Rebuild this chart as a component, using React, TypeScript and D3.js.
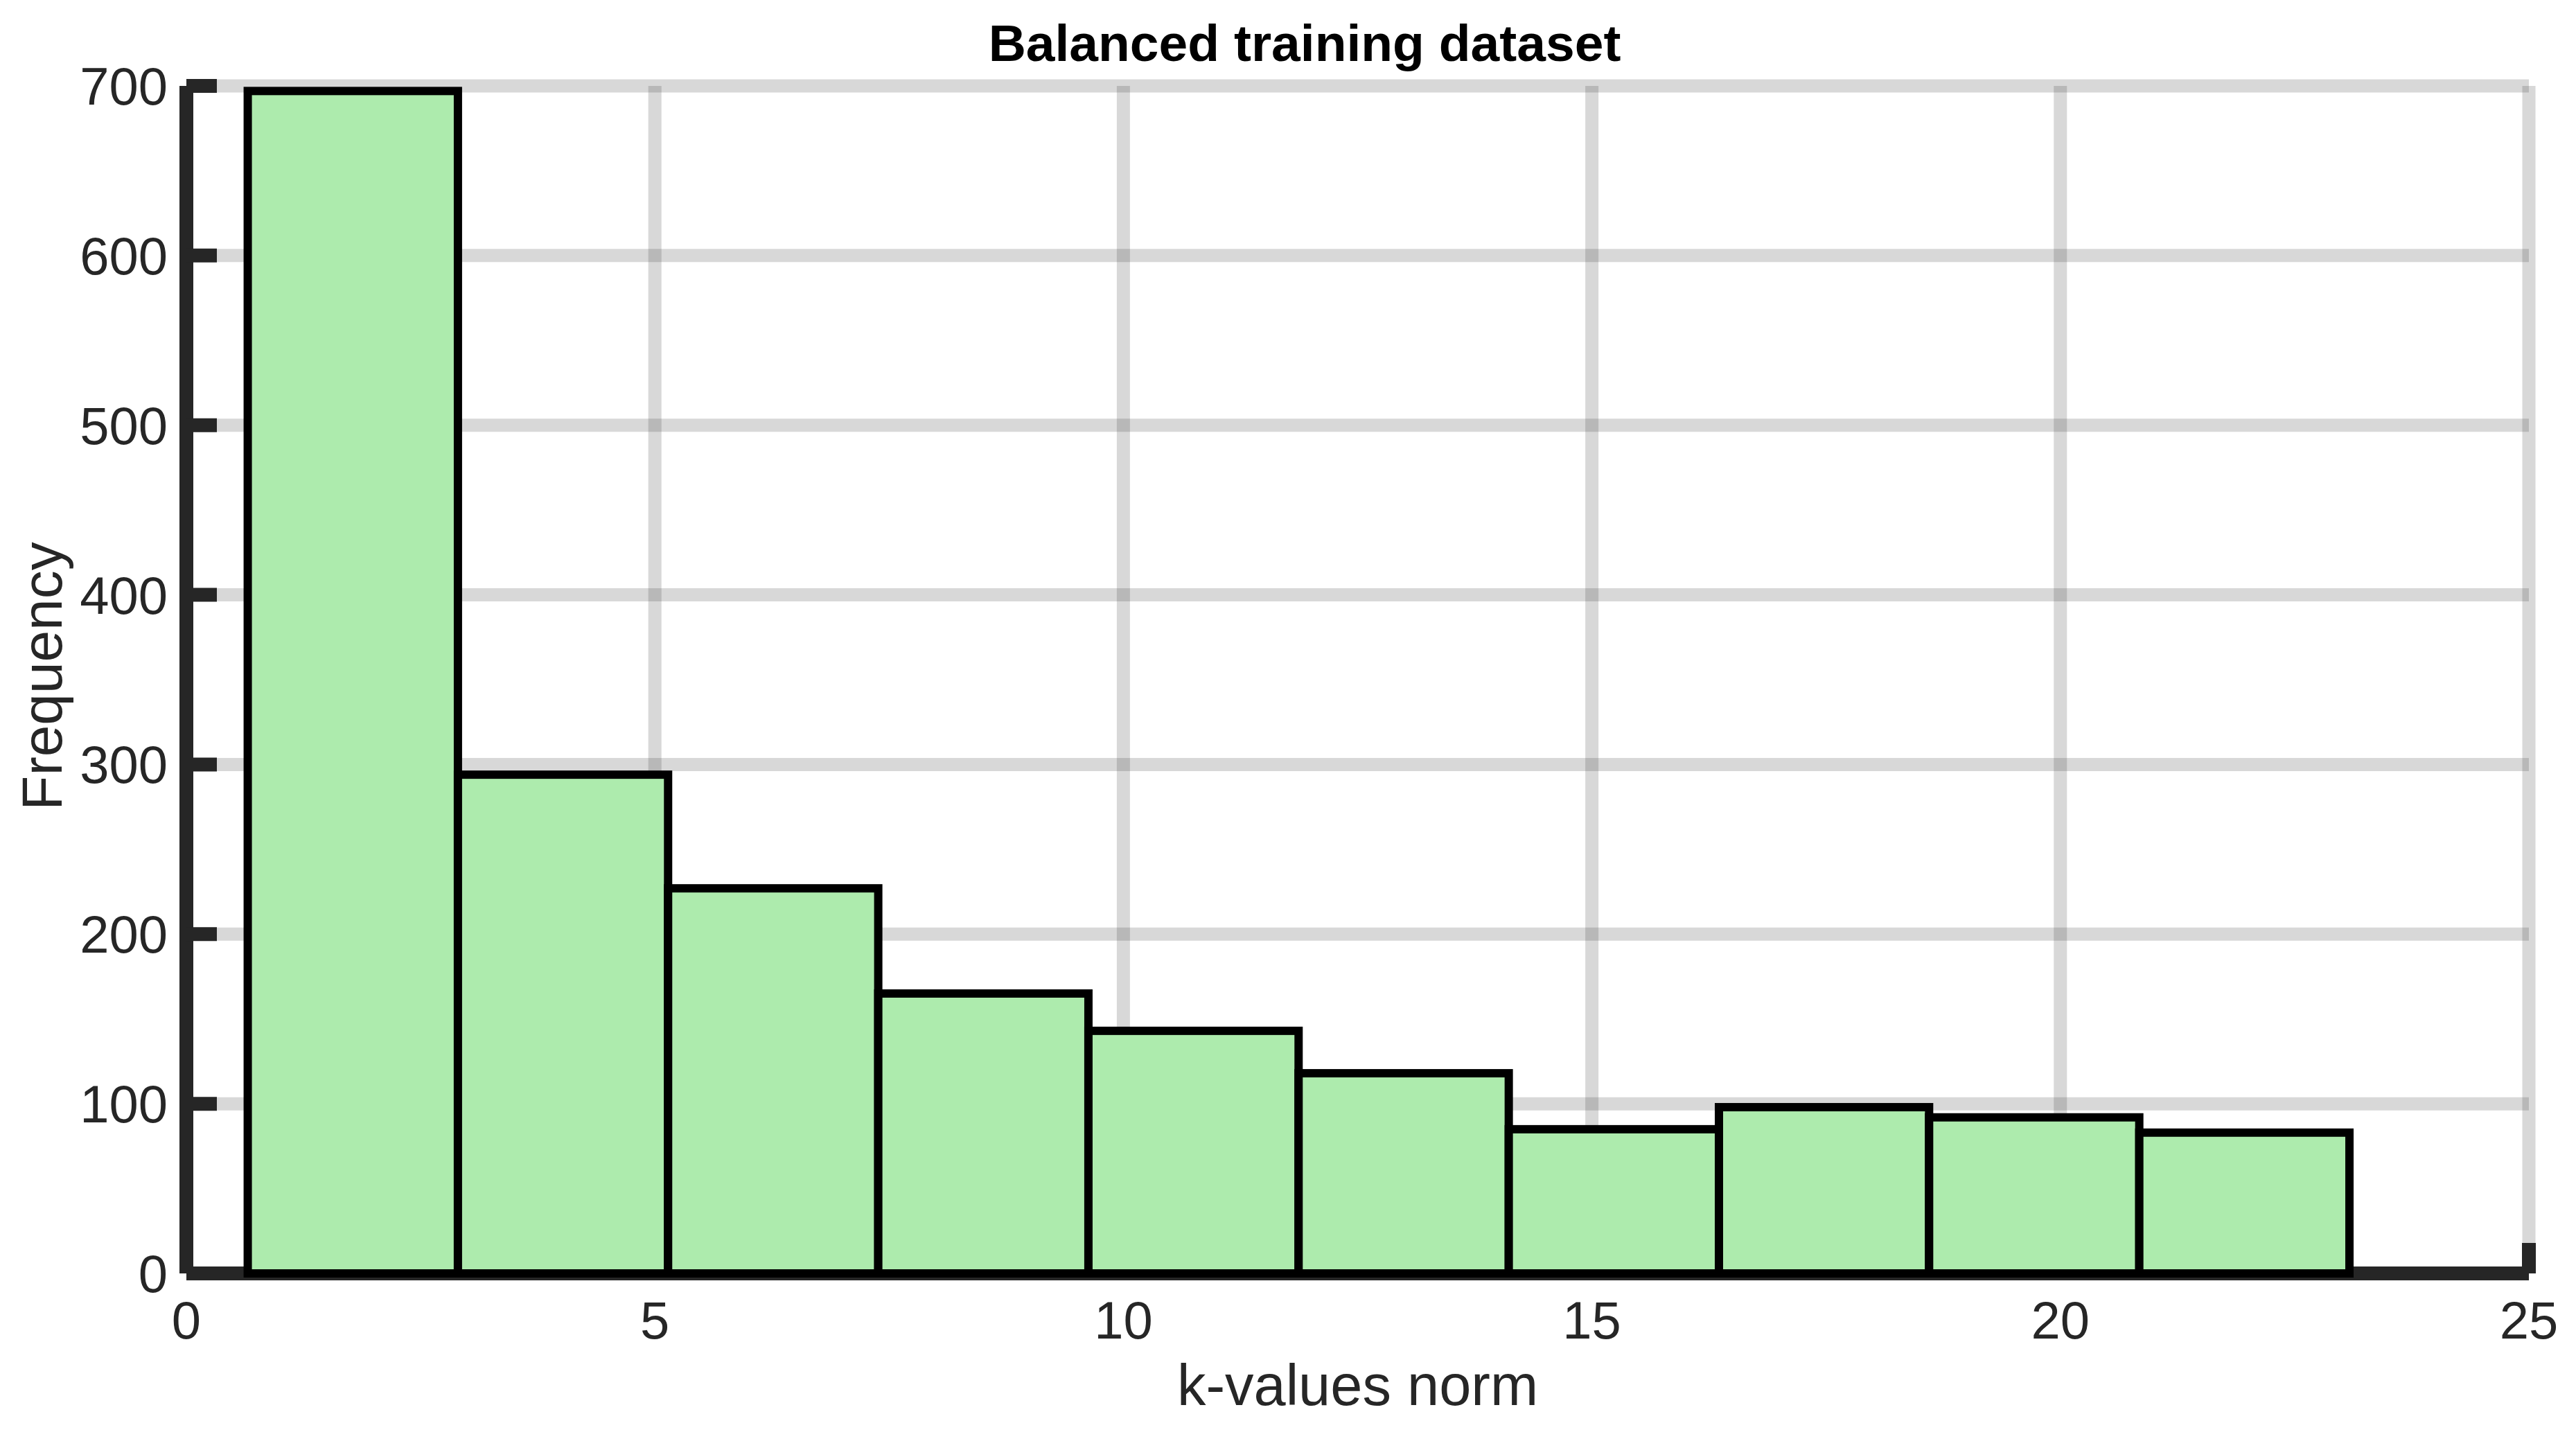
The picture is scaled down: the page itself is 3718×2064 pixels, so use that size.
import { useEffect, useRef } from "react";
import * as d3 from "d3";

// histogram bins (k-values norm) and counts
const binEdges = [0.655, 2.898, 5.141, 7.384, 9.627, 11.87, 14.113, 16.356, 18.599, 20.842, 23.085];
const counts = [697, 294, 227, 165, 143, 118, 85, 98, 92, 83];

const xTicks = [0, 5, 10, 15, 20, 25];
const yTicks = [0, 100, 200, 300, 400, 500, 600, 700];

const title = "Balanced training dataset";
const xLabel = "k-values norm";
const yLabel = "Frequency";

export default function App() {
    const ref = useRef<SVGSVGElement>(null);

    useEffect(() => {
        const width = 3718;
        const height = 2064;
        const font = "'Liberation Sans', Arial, sans-serif";
        const axisColor = "#262626";

        const svg = d3.select(ref.current)
            .attr("width", width)
            .attr("height", height);

        svg.selectAll("*").remove();

        const x = d3.scaleLinear().domain([0, 25]).range([269, 3650]);
        const y = d3.scaleLinear().domain([0, 700]).range([1838, 124]);

        // Grid
        const grid = svg.append("g").attr("stroke", axisColor).attr("stroke-opacity", 0.18).attr("stroke-width", 19);
        grid.selectAll("line.h")
            .data(yTicks.filter(d => d > 0))
            .join("line")
            .attr("x1", x(0)).attr("x2", x(25))
            .attr("y1", d => y(d)).attr("y2", d => y(d));
        grid.selectAll("line.v")
            .data(xTicks.filter(d => d > 0))
            .join("line")
            .attr("x1", d => x(d)).attr("x2", d => x(d))
            .attr("y1", y(0)).attr("y2", y(700));

        // Axes lines + ticks
        const axes = svg.append("g").attr("stroke", axisColor).attr("stroke-width", 20);
        axes.append("line").attr("x1", x(0)).attr("x2", x(0)).attr("y1", y(700)).attr("y2", y(0));
        axes.append("line").attr("x1", x(0)).attr("x2", x(25)).attr("y1", y(0)).attr("y2", y(0));
        axes.selectAll("line.yt")
            .data(yTicks)
            .join("line")
            .attr("x1", x(0)).attr("x2", x(0) + 44)
            .attr("y1", d => y(d)).attr("y2", d => y(d));
        axes.selectAll("line.xt")
            .data(xTicks)
            .join("line")
            .attr("x1", d => x(d)).attr("x2", d => x(d))
            .attr("y1", y(0)).attr("y2", y(0) - 44);

        // Bars
        svg.append("g")
            .selectAll("rect")
            .data(counts)
            .join("rect")
            .attr("x", (d, i) => x(binEdges[i]))
            .attr("width", (d, i) => x(binEdges[i + 1]) - x(binEdges[i]))
            .attr("y", d => y(d))
            .attr("height", d => y(0) - y(d))
            .attr("fill", "#ADEBAD")
            .attr("stroke", "#000")
            .attr("stroke-width", 12);

        // Tick labels
        svg.append("g")
            .selectAll("text")
            .data(yTicks)
            .join("text")
            .attr("x", 242)
            .attr("y", d => y(d) + 27)
            .attr("text-anchor", "end")
            .attr("font-family", font)
            .attr("font-size", 76)
            .attr("fill", axisColor)
            .text(d => d);

        svg.append("g")
            .selectAll("text")
            .data(xTicks)
            .join("text")
            .attr("x", d => x(d))
            .attr("y", 1932)
            .attr("text-anchor", "middle")
            .attr("font-family", font)
            .attr("font-size", 76)
            .attr("fill", axisColor)
            .text(d => d);

        // Labels
        svg.append("text")
            .attr("x", (x(0) + x(25)) / 2)
            .attr("y", 2028)
            .attr("text-anchor", "middle")
            .attr("font-family", font)
            .attr("font-size", 83)
            .attr("fill", axisColor)
            .text(xLabel);

        svg.append("text")
            .attr("transform", `translate(89, ${(y(0) + y(700)) / 2 - 5}) rotate(-90)`)
            .attr("text-anchor", "middle")
            .attr("font-family", font)
            .attr("font-size", 82)
            .attr("fill", axisColor)
            .text(yLabel);

        svg.append("text")
            .attr("x", 1883)
            .attr("y", 88)
            .attr("text-anchor", "middle")
            .attr("font-family", font)
            .attr("font-size", 75)
            .attr("font-weight", "bold")
            .attr("fill", "#000")
            .text(title);
    }, []);

    return <svg ref={ref} style={{ position: "absolute", left: 0, top: 0, background: "#fff" }}></svg>;
}
